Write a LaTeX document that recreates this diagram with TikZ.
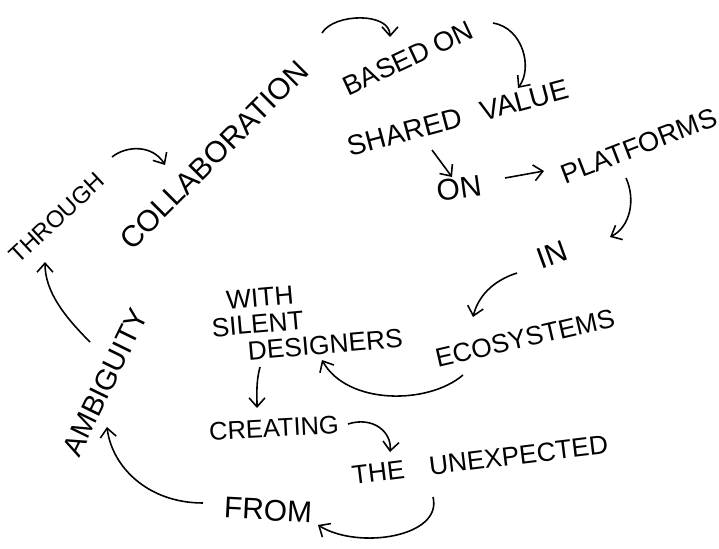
\documentclass[tikz,border=0pt]{standalone}
\usepackage{fontspec}
\setmainfont{Liberation Sans}
\usetikzlibrary{arrows.meta}
\tikzset{arrow/.style={-{Straight Barb[length=1.8mm,width=3.2mm]}, line width=0.9pt}}
\tikzset{hand/.style={font=\fontsize{#1}{#1}\selectfont, inner sep=1pt}, hand/.default=16}

\begin{document}
\begin{tikzpicture}[x=0.2mm,y=-0.2mm]
    \useasboundingbox (0,0) rectangle (719,549);
    \node[hand=13.5, rotate=43] (through) at (57,218) {THROUGH};
    \node[hand=17, rotate=45] (collab) at (214,155) {COLLABORATION};
    \node[hand=15.5, rotate=25] (based) at (408,58) {BASED ON};
    \node[hand=16, rotate=15] (shared) at (458,118) {SHARED\hspace{4mm}VALUE};
    \node[hand=17, rotate=8] (on) at (459,188) {ON};
    \node[hand=15.5, rotate=21] (platforms) at (639,146) {PLATFORMS};
    \node[hand=17, rotate=20] (in) at (552,255) {IN};
    \node[hand=15, rotate=13] (eco) at (525,338) {ECOSYSTEMS};
    \node[hand=15, rotate=5, align=left] (designers) at (306,320)
        {\hspace*{3.4mm}WITH\\SILENT\\\hspace*{6.8mm}DESIGNERS};
    \node[hand=14.5, rotate=3] (creating) at (274,428) {CREATING};
    \node[hand=15, rotate=7] (unexpected) at (480,460) {THE\hspace{5mm}UNEXPECTED};
    \node[hand=17, rotate=-3] (from) at (268,510) {FROM};
    \node[hand=16.5, rotate=64] (ambig) at (105,382) {AMBIGUITY};
    \draw[arrow] ([shift={(55,-61)}]through.center) .. controls +(15,-12) and +(-12,-20) .. ([shift={(-49,10)}]collab.center);
    \draw[arrow] ([shift={(108,-122)}]collab.center) .. controls +(12,-20) and +(0,-25) .. ([shift={(-18,-21)}]based.center);
    \draw[arrow] ([shift={(85,-35)}]based.center) .. controls +(30,5) and +(15,-20) .. ([shift={(60,-30)}]shared.center);
    \draw[arrow] ([shift={(-26,32)}]shared.center) -- ([shift={(-7,-11)}]on.center);
    \draw[arrow] ([shift={(46,-10)}]on.center) -- ([shift={(-95,25)}]platforms.center);
    \draw[arrow] ([shift={(-13,32)}]platforms.center) .. controls +(10,22) and +(20,-10) .. ([shift={(58,-18)}]in.center);
    \draw[arrow] ([shift={(-35,18)}]in.center) .. controls +(-25,8) and +(5,-20) .. ([shift={(-52,-21)}]eco.center);
    \draw[arrow] ([shift={(-62,37)}]eco.center) .. controls +(-35,30) and +(25,45) .. ([shift={(16,40)}]designers.center);
    \draw[arrow] ([shift={(-46,47)}]designers.center) .. controls +(-4,15) and +(0,-15) .. ([shift={(-17,-20)}]creating.center);
    \draw[arrow] ([shift={(74,-4)}]creating.center) .. controls +(25,-8) and +(2,-20) .. ([shift={(-90,-8)}]unexpected.center);
    \draw[arrow] ([shift={(-47,37)}]unexpected.center) .. controls +(10,40) and +(40,25) .. ([shift={(50,15)}]from.center);
    \draw[arrow] ([shift={(-65,-7)}]from.center) .. controls +(-55,0) and +(5,40) .. ([shift={(2,45)}]ambig.center);
    \draw[arrow] ([shift={(-15,-40)}]ambig.center) .. controls +(-25,-25) and +(0,30) .. ([shift={(-12,44)}]through.center);
\end{tikzpicture}
\end{document}
